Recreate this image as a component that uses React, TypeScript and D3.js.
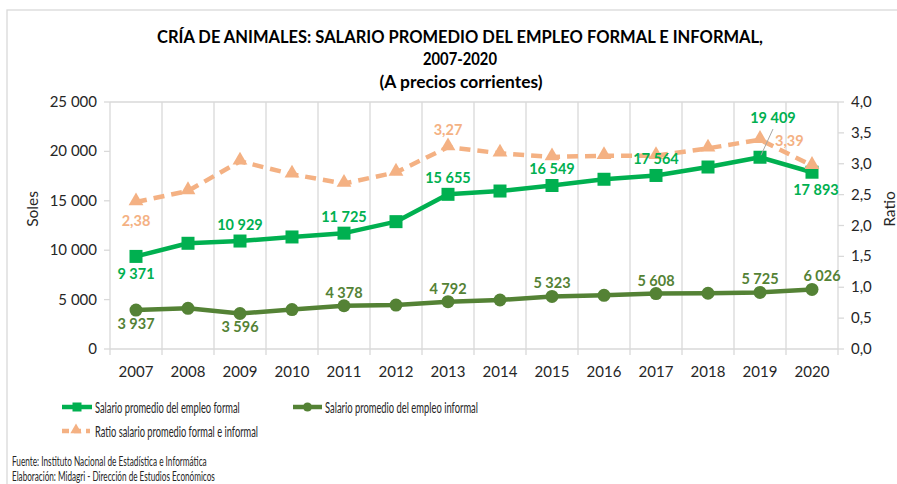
import { useLayoutEffect, useRef, useState } from 'react';
import * as d3 from 'd3';

const years = ['2007', '2008', '2009', '2010', '2011', '2012', '2013', '2014', '2015', '2016', '2017', '2018', '2019', '2020'];
const formal = [9371, 10700, 10929, 11340, 11725, 12890, 15655, 15990, 16549, 17180, 17564, 18420, 19409, 17893];
const informal = [3937, 4120, 3596, 3990, 4378, 4450, 4792, 4960, 5323, 5435, 5608, 5640, 5725, 6026];
const ratio = [2.38, 2.56, 3.04, 2.83, 2.68, 2.86, 3.27, 3.17, 3.11, 3.13, 3.13, 3.25, 3.39, 2.97];
const leftTicks = [0, 5000, 10000, 15000, 20000, 25000];
const rightTicks = [0, 0.5, 1, 1.5, 2, 2.5, 3, 3.5, 4];

// which points get a data label, and where
const formalLabels: Record<string, 'above' | 'below'> = {
  '2007': 'below', '2009': 'above', '2011': 'above', '2013': 'above',
  '2015': 'above', '2017': 'above', '2020': 'below',
};
const informalLabels: Record<string, 'above' | 'below'> = {
  '2007': 'below', '2009': 'below', '2011': 'above', '2013': 'above',
  '2015': 'above', '2017': 'above', '2019': 'above', '2020': 'above',
};

const GREEN = '#00B050';
const DKGREEN = '#548235';
const ORANGE = '#F4B183';
const GRID = '#D9D9D9';
const TXT = '#262626';
const FONT = 'Lato, "Open Sans", sans-serif';

const fmtNum = (v: number) => d3.format(',')(v).replace(/,/g, ' ');
const fmtRatio = (v: number) => d3.format('.2f')(v).replace('.', ',');
const fmtTick1 = (v: number) => d3.format('.1f')(v).replace('.', ',');

// text squeezed horizontally to a given width (the source uses a narrow font)
function FitText({ x, y, width, children, ...rest }: any) {
  const ref = useRef<SVGTextElement>(null);
  const [sx, setSx] = useState(1);
  useLayoutEffect(() => {
    if (!ref.current) return;
    const w = ref.current.getComputedTextLength();
    if (w > 0) setSx(width / w);
  }, [width, children]);
  return (
    <text ref={ref} transform={`translate(${x},${y}) scale(${sx},1)`} {...rest}>{children}</text>
  );
}

export default function App() {
  const W = 897, H = 484;
  const left = 110, right = 838, top = 102, bottom = 349;

  const x = d3.scaleBand().domain(years).range([left, right]).padding(0);
  const cx = (y: string) => (x(y) ?? 0) + x.bandwidth() / 2;
  const yL = d3.scaleLinear().domain([0, 25000]).range([bottom, top]);
  const yR = d3.scaleLinear().domain([0, 4]).range([bottom, top]);

  const lineL = d3.line<number>().x((_, i) => cx(years[i])).y(d => yL(d));
  const lineR = d3.line<number>().x((_, i) => cx(years[i])).y(d => yR(d));
  const tri = d3.symbol().type(d3.symbolTriangle).size(95)()!;

  const boundaries = years.map(y => x(y) ?? 0).concat([right]);

  const i2019 = years.indexOf('2019');

  return (
    <svg width={W} height={H} style={{ position: 'absolute', left: 0, top: 0, background: '#fff' }} fontFamily={FONT}>
      <rect x={7} y={10} width={W + 10} height={H + 10} fill="#fff" stroke={GRID} strokeWidth={1.3} />

      {/* title */}
      <g fontWeight="bold" fontSize={16.5} fill="#000" textAnchor="middle">
        <text x={460} y={43} textLength={606} lengthAdjust="spacingAndGlyphs">CRÍA DE ANIMALES: SALARIO PROMEDIO DEL EMPLEO FORMAL E INFORMAL,</text>
        <text x={460} y={65} textLength={74} lengthAdjust="spacingAndGlyphs">2007-2020</text>
        <text x={461} y={88} textLength={163} lengthAdjust="spacingAndGlyphs">(A precios corrientes)</text>
      </g>

      {/* grid */}
      <line x1={left} x2={right} y1={top} y2={top} stroke={GRID} strokeWidth={1.3} />
      {boundaries.map((b, i) => (
        <line key={i} x1={b} x2={b} y1={top} y2={bottom + 6} stroke={GRID} strokeWidth={1.3} />
      ))}
      <line x1={left} x2={right} y1={bottom} y2={bottom} stroke={GRID} strokeWidth={1.5} />

      {/* left axis */}
      {leftTicks.map(t => (
        <g key={t}>
          <line x1={left - 6} x2={left} y1={yL(t)} y2={yL(t)} stroke={GRID} strokeWidth={1.3} />
          <text x={97} y={yL(t) + 5} textAnchor="end" fontSize={15} fill={TXT}>{fmtNum(t)}</text>
        </g>
      ))}
      {/* right axis */}
      {rightTicks.map(t => (
        <g key={t}>
          <line x1={right} x2={right + 6} y1={yR(t)} y2={yR(t)} stroke={GRID} strokeWidth={1.3} />
          <text x={851} y={yR(t) + 5} textAnchor="start" fontSize={15} fill={TXT}>{fmtTick1(t)}</text>
        </g>
      ))}
      {years.map(y => (
        <text key={y} x={cx(y)} y={377} textAnchor="middle" fontSize={15} fill={TXT}>{y}</text>
      ))}
      <text transform="translate(38,209) rotate(-90)" textAnchor="middle" fontSize={15.5} fill={TXT}>Soles</text>
      <text transform="translate(895,209) rotate(-90)" textAnchor="middle" fontSize={15.5} fill={TXT}>Ratio</text>

      {/* formal */}
      <path d={lineL(formal)!} fill="none" stroke={GREEN} strokeWidth={4.5} strokeLinejoin="round" />
      {formal.map((v, i) => (
        <rect key={i} x={cx(years[i]) - 6.5} y={yL(v) - 6.5} width={13} height={13} fill={GREEN} />
      ))}

      {/* informal */}
      <path d={lineL(informal)!} fill="none" stroke={DKGREEN} strokeWidth={4.5} strokeLinejoin="round" />
      {informal.map((v, i) => (
        <circle key={i} cx={cx(years[i])} cy={yL(v)} r={6.5} fill={DKGREEN} />
      ))}

      {/* ratio */}
      <path d={lineR(ratio)!} fill="none" stroke={ORANGE} strokeWidth={4.5} strokeDasharray="11 7" />
      {ratio.map((v, i) => (
        <path key={i} d={tri} transform={`translate(${cx(years[i])},${yR(v) - 1})`} fill={ORANGE} />
      ))}

      {/* data labels */}
      <g fontWeight="bold" fontSize={14.5} textAnchor="middle">
        {years.map((y, i) => formalLabels[y] ? (
          <text key={'f' + y} x={cx(y) + (y === '2020' ? 4 : 0)} y={yL(formal[i]) + (formalLabels[y] === 'above' ? -11 : 23)} fill={GREEN}>{fmtNum(formal[i])}</text>
        ) : null)}
        {years.map((y, i) => informalLabels[y] ? (
          <text key={'i' + y} x={cx(y) + (y === '2020' ? 10 : 0)} y={yL(informal[i]) + (informalLabels[y] === 'above' ? -8 : 19)} fill={DKGREEN}>{fmtNum(informal[i])}</text>
        ) : null)}
        <text x={773} y={123} fill={GREEN}>{fmtNum(formal[i2019])}</text>
        <line x1={773} y1={129} x2={761} y2={yL(formal[i2019]) - 2} stroke="#A6A6A6" strokeWidth={1} />
        <text x={cx('2007')} y={yR(ratio[0]) + 24} fill={ORANGE}>{fmtRatio(ratio[0])}</text>
        <text x={cx('2013')} y={yR(ratio[6]) - 12} fill={ORANGE}>{fmtRatio(ratio[6])}</text>
        <text x={775} y={146} textAnchor="start" fill={ORANGE}>{fmtRatio(ratio[i2019])}</text>
      </g>

      {/* legend */}
      <g fontSize={16} fill={TXT}>
        <line x1={62} x2={92} y1={407} y2={407} stroke={GREEN} strokeWidth={4.5} />
        <rect x={72.5} y={402.5} width={9} height={9} fill={GREEN} />
        <FitText x={95} y={412.5} width={145}>Salario promedio del empleo formal</FitText>

        <line x1={293} x2={322} y1={407} y2={407} stroke={DKGREEN} strokeWidth={4.5} />
        <circle cx={307.5} cy={407} r={4.5} fill={DKGREEN} />
        <FitText x={325} y={412.5} width={153}>Salario promedio del empleo informal</FitText>

        <line x1={62} x2={90} y1={431} y2={431} stroke={ORANGE} strokeWidth={4.5} strokeDasharray="7 5" />
        <path d={d3.symbol().type(d3.symbolTriangle).size(55)()!} transform="translate(76,430)" fill={ORANGE} />
        <FitText x={95} y={437} width={163}>Ratio salario promedio formal e informal</FitText>
      </g>

      {/* source */}
      <g fontSize={14} fill={TXT}>
        <FitText x={12} y={466} width={195}>Fuente: Instituto Nacional de Estadística e Informática</FitText>
        <FitText x={12} y={481} width={203}>Elaboración: Midagri - Dirección de Estudios Económicos</FitText>
      </g>
    </svg>
  );
}
